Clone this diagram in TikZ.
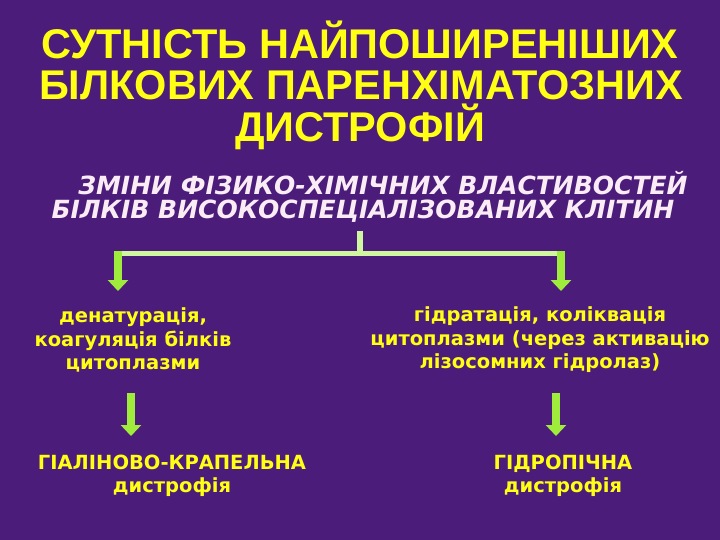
\documentclass[tikz,border=0pt]{standalone}
\usepackage{fontspec}
\setmainfont{Liberation Sans}
\newfontfamily\titlefont{Liberation Sans}
\newfontfamily\subfont{DejaVu Sans}
\newfontfamily\bodyfont{DejaVu Sans}
\usetikzlibrary{arrows.meta}
\definecolor{bgpurple}{RGB}{76,28,122}
\definecolor{txtyellow}{RGB}{255,255,20}
\definecolor{subwhite}{RGB}{250,236,244}
\definecolor{barGreen}{RGB}{208,246,160}
\definecolor{arrGreen}{RGB}{160,236,60}
\tikzset{
  titletext/.style={text=txtyellow, font=\titlefont\bfseries\fontsize{41.5}{46}\selectfont, inner sep=0pt},
  subtext/.style={text=subwhite, font=\subfont\bfseries\itshape\fontsize{25}{28}\selectfont, inner sep=0pt},
  bodytext/.style={text=txtyellow, font=\bodyfont\bfseries\fontsize{19.5}{23.5}\selectfont, align=center, inner sep=0pt},
  bar/.style={draw=barGreen, line width=5pt},
  garrow/.style={draw=arrGreen, line width=8pt, -{Triangle[width=20pt,length=11pt]}},
}
\begin{document}
\begin{tikzpicture}[x=1pt,y=-1pt]
\fill[bgpurple] (0,0) rectangle (720,540);
\useasboundingbox (0,0) rectangle (720,540);

\node[titletext] (t1) at (360,40) {СУТНІСТЬ НАЙПОШИРЕНІШИХ};
\node[titletext] (t2) at (361,85) {БІЛКОВИХ ПАРЕНХІМАТОЗНИХ};
\node[titletext] (t3) at (360,127) {ДИСТРОФІЙ};

\node[subtext] (sub1) at (383,183) {ЗМІНИ ФІЗИКО-ХІМІЧНИХ ВЛАСТИВОСТЕЙ};
\node[subtext] (sub2) at (363,211) {БІЛКІВ ВИСОКОСПЕЦІАЛІЗОВАНИХ КЛІТИН};

\coordinate (stubtop) at (360,231);
\coordinate (barmid) at (360,253);
\coordinate (barL) at (118,253);
\coordinate (barR) at (561,253);
\coordinate (a1s) at (118,251);
\coordinate (a1e) at (118,291);
\coordinate (a2s) at (561,251);
\coordinate (a2e) at (561,291);

\draw[bar] (barL) -- (barR);
\draw[draw=barGreen, line width=6pt] (stubtop) -- (barmid);
\draw[garrow] (a1s) -- (a1e);
\draw[garrow] (a2s) -- (a2e);

\node[bodytext] (left) at (133,340) {денатурація,\\коагуляція білків\\цитоплазми};
\node[bodytext] (right) at (540,340) {гідратація, коліквація\\цитоплазми (через активацію\\лізосомних гідролаз)};

\coordinate (b1s) at (131,393);
\coordinate (b1e) at (131,436);
\coordinate (b2s) at (556,393);
\coordinate (b2e) at (556,436);
\draw[garrow] (b1s) -- (b1e);
\draw[garrow] (b2s) -- (b2e);

\node[bodytext] (hyal) at (172,476) {ГІАЛІНОВО-КРАПЕЛЬНА\\дистрофія};
\node[bodytext] (hydro) at (563,476) {ГІДРОПІЧНА\\дистрофія};
\end{tikzpicture}
\end{document}
